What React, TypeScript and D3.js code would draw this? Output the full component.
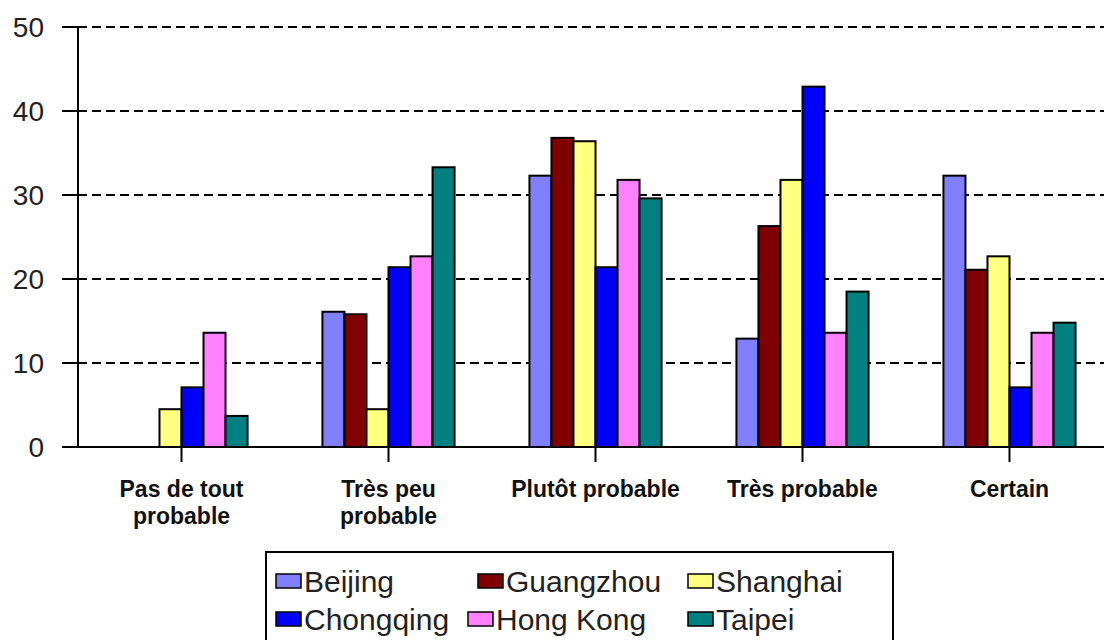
import React from "react";
import * as d3 from "d3";

// Survey answers per city, in percent of respondents
const categories: string[][] = [
  ["Pas de tout", "probable"],
  ["Très peu", "probable"],
  ["Plutôt probable"],
  ["Très probable"],
  ["Certain"],
];
const cities = ["Beijing", "Guangzhou", "Shanghai", "Chongqing", "Hong Kong", "Taipei"];
const colors = ["#8080ff", "#800000", "#ffff80", "#0000ff", "#ff80ff", "#008080"];

const beijing = [0, 16.1, 32.3, 12.9, 32.3];
const guangzhou = [0, 15.8, 36.8, 26.3, 21.1];
const shanghai = [4.5, 4.5, 36.4, 31.8, 22.7];
const chongqing = [7.1, 21.4, 21.4, 42.9, 7.1];
const hongKong = [13.6, 22.7, 31.8, 13.6, 13.6];
const taipei = [3.7, 33.3, 29.6, 18.5, 14.8];
const seriesValues = [beijing, guangzhou, shanghai, chongqing, hongKong, taipei];

const yTicks = [0, 10, 20, 30, 40, 50];

const W = 1104;
const H = 640;
const left = 78;
const step = 207;
const top = 27;
const bottom = 447;

// legend entry placement (swatch left edge, row index)
const legendSwatchX = [276, 478, 688, 276, 468, 688];
const legendBaselines = [592, 630];

export default function App() {
  const catKeys = categories.map((c) => c.join(" "));
  const x0 = d3.scaleBand<string>().domain(catKeys).range([left, left + step * catKeys.length]).padding(0);
  const x1 = d3
    .scaleBand<string>()
    .domain(cities)
    .range([0, x0.bandwidth()])
    .paddingInner(0)
    .paddingOuter(1.7);
  const y = d3.scaleLinear().domain([0, 50]).range([bottom, top]);

  return (
    <svg
      width={W}
      height={H}
      style={{ position: "absolute", left: 0, top: 0, background: "#fff" }}
      fontFamily="'Liberation Sans', Arial, sans-serif"
    >
      <rect x={0} y={0} width={W} height={H} fill="#fff" />

      {/* dashed gridlines */}
      {yTicks
        .filter((t) => t > 0)
        .map((t) => (
          <line
            key={"g" + t}
            x1={left}
            x2={W}
            y1={y(t)}
            y2={y(t)}
            stroke="#000"
            strokeWidth={2}
            strokeDasharray="9,5"
          />
        ))}

      {/* bars */}
      {seriesValues.map((vals, si) =>
        vals.map((v, ci) =>
          v > 0 ? (
            <rect
              key={si + "-" + ci}
              x={(x0(catKeys[ci]) as number) + (x1(cities[si]) as number)}
              y={y(v)}
              width={x1.bandwidth()}
              height={y(0) - y(v)}
              fill={colors[si]}
              stroke="#000"
              strokeWidth={2}
            />
          ) : null
        )
      )}

      {/* y axis */}
      <line x1={left} x2={left} y1={y(50)} y2={y(0)} stroke="#000" strokeWidth={2} />
      {yTicks.map((t) => (
        <g key={"t" + t}>
          <line x1={left - 16} x2={left} y1={y(t)} y2={y(t)} stroke="#000" strokeWidth={2} />
          <text x={44} y={y(t)} dy="0.36em" textAnchor="end" fontSize={28} fill="#222">
            {t}
          </text>
        </g>
      ))}

      {/* x axis */}
      <line x1={left - 16} x2={W} y1={y(0)} y2={y(0)} stroke="#000" strokeWidth={2} />
      {catKeys.map((k, i) => {
        const cx = (x0(k) as number) + x0.bandwidth() / 2;
        return (
          <g key={"c" + k}>
            <line x1={cx} x2={cx} y1={y(0)} y2={y(0) + 15} stroke="#000" strokeWidth={2} />
            {categories[i].map((line, li) => (
              <text
                key={li}
                x={cx}
                y={497 + li * 27}
                textAnchor="middle"
                fontSize={23}
                fontWeight="bold"
                fill="#111"
              >
                {line}
              </text>
            ))}
          </g>
        );
      })}

      {/* legend */}
      <rect x={266} y={552} width={627} height={100} fill="#fff" stroke="#000" strokeWidth={2} />
      {cities.map((c, i) => {
        const lx = legendSwatchX[i];
        const base = legendBaselines[Math.floor(i / 3)];
        return (
          <g key={"l" + c}>
            <rect
              x={lx}
              y={base - 18}
              width={25}
              height={14}
              fill={colors[i]}
              stroke="#000"
              strokeWidth={1.5}
            />
            <text x={lx + 28} y={base} fontSize={30} fill="#222">
              {c}
            </text>
          </g>
        );
      })}
    </svg>
  );
}
